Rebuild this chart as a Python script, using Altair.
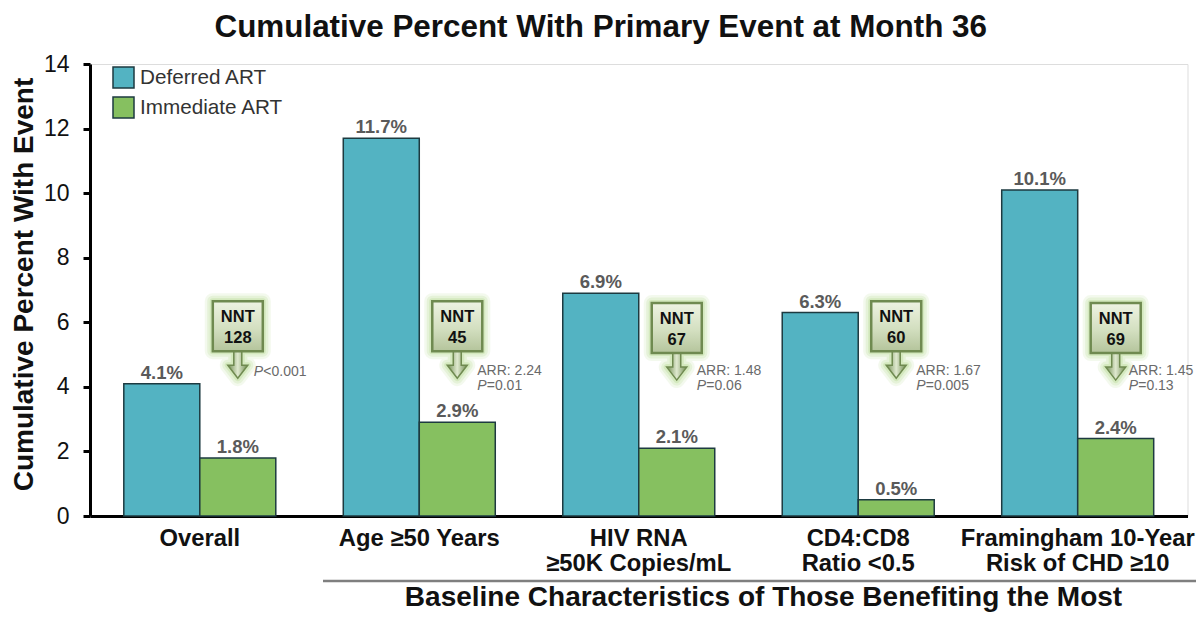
import altair as alt
import pandas as pd

categories = ["Overall", "Age ≥50 Years", "HIV RNA\n≥50K Copies/mL", "CD4:CD8\nRatio <0.5", "Framingham 10-Year\nRisk of CHD ≥10"]
series_names = ["Deferred ART", "Immediate ART"]
deferred = [4.1, 11.7, 6.9, 6.3, 10.1]
immediate = [1.8, 2.9, 2.1, 0.5, 2.4]
nnt = ["128", "45", "67", "60", "69"]
nnt_y = [5.88, 5.88, 5.82, 5.88, 5.82]
arr_text = ["", "ARR: 2.24", "ARR: 1.48", "ARR: 1.67", "ARR: 1.45"]
p_text = ["<0.001", "=0.01", "=0.06", "=0.005", "=0.13"]
arr_y = [4.46, 4.48, 4.48, 4.48, 4.48]
p_y = [4.46, 4.02, 4.02, 4.02, 4.02]
stat_group = ["first", "mid", "mid", "mid", "last"]

bars = pd.DataFrame(
    [{"group": c, "series": series_names[0], "value": v, "label": f"{v}%"} for c, v in zip(categories, deferred)]
    + [{"group": c, "series": series_names[1], "value": v, "label": f"{v}%"} for c, v in zip(categories, immediate)]
)
notes = pd.DataFrame({
    "group": categories, "series": series_names[1], "nnt": nnt, "nnt_y": nnt_y,
    "arr": arr_text, "p": p_text, "arr_y": arr_y, "p_y": p_y, "kind": stat_group,
})

x_enc = alt.X(
    "group:N", sort=categories,
    scale=alt.Scale(domain=categories, paddingInner=0.3075, paddingOuter=0.154),
    axis=alt.Axis(
        title="Baseline Characteristics of Those Benefiting the Most",
        titleFont="Liberation Sans", titleFontSize=28, titleFontWeight="bold", titleColor="#111111",
        titleX=673, titleY=95, titleBaseline="bottom",
        labelExpr="split(datum.label, '\\n')", labelAngle=0, labelFont="Liberation Sans",
        labelFontSize=23.8, labelFontWeight="bold", labelColor="#111111", labelLineHeight=25,
        labelPadding=10, labelLimit=400, ticks=False, domainColor="#000000", domainWidth=3,
        labelFlush=False, labelOverlap=False,
    ),
)
off_enc = alt.XOffset("series:N", sort=series_names, scale=alt.Scale(domain=series_names, paddingInner=0, paddingOuter=0))
y_enc = alt.Y(
    "value:Q", scale=alt.Scale(domain=[0, 14], nice=False),
    axis=alt.Axis(
        title="Cumulative Percent With Event", values=list(range(0, 15, 2)), grid=False,
        titleFont="Liberation Sans", titleFontSize=28, titleFontWeight="bold", titleColor="#111111",
        titleX=-51.5, titleY=220,
        labelFont="Liberation Sans", labelFontSize=23, labelColor="#111111", labelPadding=14,
        domainColor="#000000", domainWidth=3, tickColor="#000000", tickWidth=3, tickSize=7,
    ),
)

bar_layer = alt.Chart(bars).mark_bar(stroke="#1d3a40", strokeWidth=1.5).encode(
    x=x_enc, xOffset=off_enc, y=y_enc,
    color=alt.Color(
        "series:N", sort=series_names,
        scale=alt.Scale(domain=series_names, range=["#53B3C2", "#86C060"]),
        legend=alt.Legend(
            title=None, orient="none", legendX=22, legendY=2, symbolType="square", symbolSize=441,
            symbolStrokeColor="#1d3a40", symbolStrokeWidth=1.5, symbolOpacity=1, labelFont="Liberation Sans",
            labelFontSize=20.7, labelColor="#333333", rowPadding=3, labelOffset=5, padding=0,
        ),
    ),
)
value_labels = alt.Chart(bars).mark_text(
    font="Liberation Sans", fontSize=18.5, fontWeight="bold", color="#5a5a5a", baseline="bottom", dy=-1
).encode(x=x_enc, xOffset=off_enc, y=alt.Y("value:Q"), text="label:N")

BOX = "M-0.5,-0.5 L0.5,-0.5 L0.5,0.5 L-0.5,0.5 Z"
ARROW = "M-0.08,0.5 L0.08,0.5 L0.08,0.78 L0.2,0.78 L0,1.04 L-0.2,0.78 L-0.08,0.78 Z"
CALLOUT = BOX + " " + ARROW
pos = dict(x=x_enc, xOffset=off_enc, y=alt.Y("nnt_y:Q"))
note_base = alt.Chart(notes)

glows = [
    note_base.mark_point(shape=CALLOUT, size=10000, filled=False, stroke="#b5da8f", strokeWidth=w,
                         opacity=o, strokeJoin="round").encode(**pos)
    for w, o in [(16, 0.15), (11, 0.22), (6, 0.35)]
]
arrow = note_base.mark_point(
    shape=ARROW, size=10000, filled=True, opacity=1, stroke="#6f8a50", strokeWidth=1.5,
    fill=alt.LinearGradient(gradient="linear", x1=0, y1=0, x2=1, y2=0, stops=[
        alt.GradientStop(offset=0, color="#6f8c50"), alt.GradientStop(offset=0.5, color="#dfe9cf"),
        alt.GradientStop(offset=1, color="#6f8c50")]),
).encode(**pos)
box = note_base.mark_point(
    shape=BOX, size=10000, filled=True, opacity=1, stroke="#6f8a50", strokeWidth=2.5,
    fill=alt.LinearGradient(gradient="linear", x1=0, y1=0, x2=0, y2=1, stops=[
        alt.GradientStop(offset=0, color="#eef3e2"), alt.GradientStop(offset=0.55, color="#d3dfc0"),
        alt.GradientStop(offset=1, color="#b4c49b")]),
).encode(**pos)

nnt_style = dict(font="Liberation Sans", fontSize=16.5, fontWeight="bold", color="#111111", baseline="middle")
nnt_word = note_base.mark_text(dy=-9, **nnt_style).encode(**pos, text=alt.value("NNT"))
nnt_val = note_base.mark_text(dy=12, **nnt_style).encode(**pos, text="nnt:N")

stat = dict(font="Liberation Sans", fontSize=14, color="#6a6a6a", align="left", baseline="middle")
stat_layers = []
for kind, dx in [("first", 16), ("mid", 20), ("last", 13)]:
    src = alt.Chart(notes).transform_filter(alt.datum.kind == kind)
    stat_layers += [
        src.mark_text(dx=dx, **stat).encode(x=x_enc, xOffset=off_enc, y=alt.Y("arr_y:Q"), text="arr:N"),
        src.mark_text(dx=dx, fontStyle="italic", **stat).encode(x=x_enc, xOffset=off_enc, y=alt.Y("p_y:Q"), text=alt.value("P")),
        src.mark_text(dx=dx + 9.5, **stat).encode(x=x_enc, xOffset=off_enc, y=alt.Y("p_y:Q"), text="p:N"),
    ]

divider = alt.Chart(pd.DataFrame({"v": [-2.01]})).mark_rule(color="#7f7f7f", strokeWidth=2.5).encode(
    x=alt.value(233), x2=alt.value(1106), y=alt.Y("v:Q")
)

chart = alt.layer(bar_layer, value_labels, *glows, arrow, box, nnt_word, nnt_val, *stat_layers, divider).properties(
    width=1097.5, height=452,
    padding={"left": 82, "top": 56, "right": 8.5, "bottom": 97},
    autosize=alt.AutoSizeParams(type="none"),
    title=alt.TitleParams(
        "Cumulative Percent With Primary Event at Month 36", font="Liberation Sans", fontSize=31.4,
        fontWeight="bold", color="#111111", anchor="start", dx=204, offset=10,
    ),
).configure_view(stroke=None).configure(background="white")

chart.save("out.html", embed_options={"renderer": "svg", "actions": False})
